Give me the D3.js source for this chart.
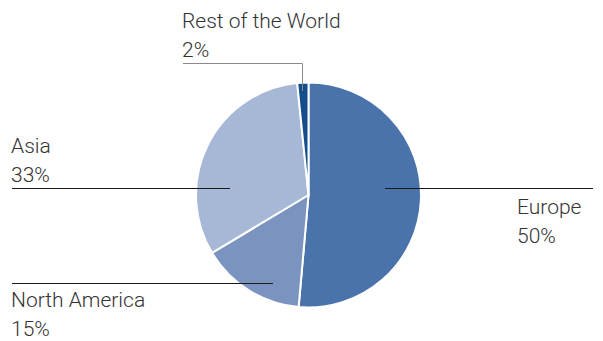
<!DOCTYPE html>
<html>
<head>
<meta charset="utf-8">
<script src="https://cdn.jsdelivr.net/npm/d3@7"></script>
<style>
  html, body { margin: 0; padding: 0; background: #fff; }
  svg text { font-family: Roboto, "Liberation Sans", sans-serif; font-weight: 300; font-size: 21px; fill: #333; }
</style>
</head>
<body>
<div id="chart"></div>
<script>
// slices, clockwise from 12 o'clock
const regions = ["Europe", "North America", "Asia", "Rest of the World"];
const shares = [51.4, 15.0, 32.0, 1.6];
const shareLabels = ["50%", "15%", "33%", "2%"];
const colors = ["#4a72ab", "#7b93bf", "#a7b7d6", "#124d8c"];

const width = 603, height = 341;
const cx = 308.5, cy = 195, radius = 112.5;

// where each label sits and how its leader runs (text x, name baseline, leader)
const labelLayout = {
    "Europe":            {tx: 517, ty: 214, lx1: 385, lx2: 593, ly: 188.5, stroke: "#1a1a1a"},
    "North America":     {tx: 11,  ty: 307, lx1: 12,  lx2: 273, ly: 283.5, stroke: "#1a1a1a"},
    "Asia":              {tx: 11,  ty: 153, lx1: 12,  lx2: 230, ly: 188.5, stroke: "#1a1a1a"},
    "Rest of the World": {tx: 182, ty: 28,  lx1: 183, lx2: 302.5, ly: 63.5, stroke: "#8a8a8a", drop: 91}
};

const data = regions.map((r, i) => ({name: r, value: shares[i], label: shareLabels[i], color: colors[i]}));

const svg = d3.select("#chart")
    .append("svg")
    .attr("width", width)
    .attr("height", height);

const pie = d3.pie()
    .value(d => d.value)
    .sort(null);

const arc = d3.arc()
    .innerRadius(0)
    .outerRadius(radius);

const g = svg.append("g")
    .attr("transform", `translate(${cx},${cy})`);

g.selectAll("path")
    .data(pie(data))
    .enter()
    .append("path")
    .attr("d", arc)
    .attr("fill", d => d.data.color)
    .attr("stroke", "#fff")
    .attr("stroke-width", 2)
    .attr("stroke-linejoin", "round");

// leaders + labels
data.forEach(d => {
    const L = labelLayout[d.name];
    let pts = [[L.lx1, L.ly], [L.lx2, L.ly]];
    if (L.drop) pts.push([L.lx2, L.drop]);
    svg.append("path")
        .attr("d", d3.line()(pts))
        .attr("fill", "none")
        .attr("stroke", L.stroke)
        .attr("stroke-width", 1);

    const t = svg.append("text")
        .attr("x", L.tx)
        .attr("y", L.ty);
    t.append("tspan").attr("x", L.tx).text(d.name);
    t.append("tspan").attr("x", L.tx).attr("dy", 29).text(d.label);
});
</script>
</body>
</html>
